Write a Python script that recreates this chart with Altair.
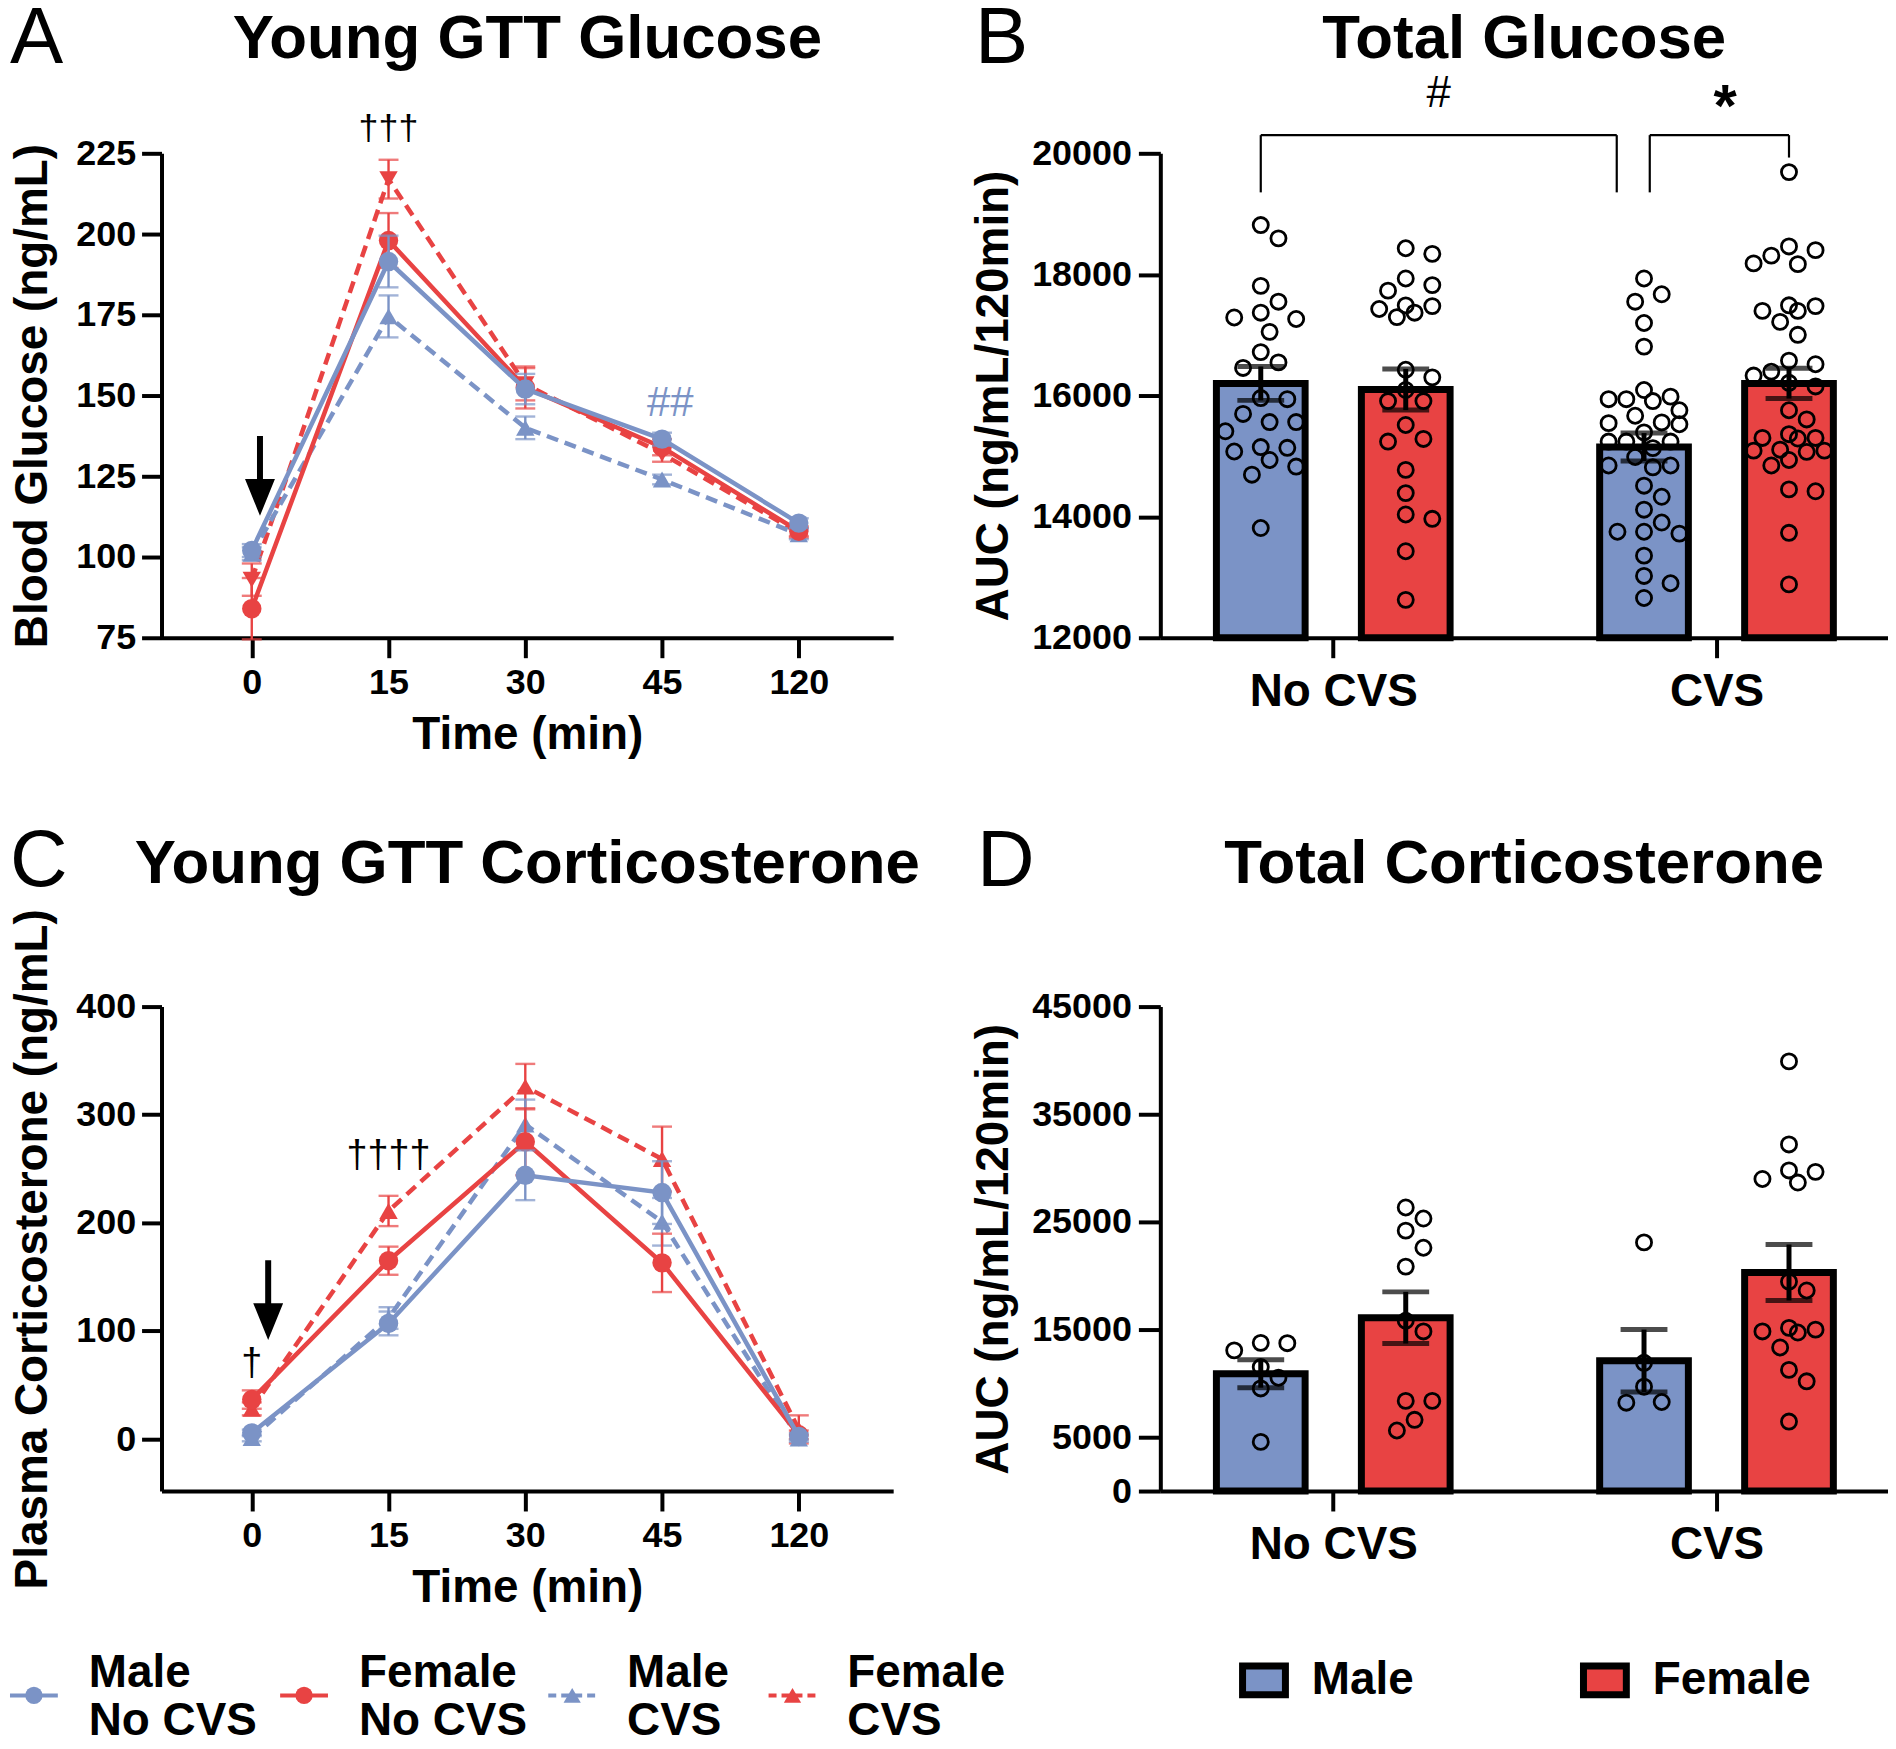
import json
import altair as alt
import pandas as pd

FONT = "Liberation Sans"
BLUE = "#7B93C6"
RED = "#E84343"

# ---------------- data ----------------
time_labels = ["0", "15", "30", "45", "120"]
series_names = ["Male No CVS", "Female No CVS", "Male CVS", "Female CVS"]
legend_labels = ["Male\nNo CVS", "Female\nNo CVS", "Male\nCVS", "Female\nCVS"]
group_labels = ["No CVS", "CVS"]
sex_labels = ["Male", "Female"]

# Panel A: blood glucose (mean, SEM) at each time point
glu_male_nocvs = [102, 191.5, 152, 136.5, 110.5]
glu_male_nocvs_sem = [2, 8, 4.7, 2, 1.5]
glu_female_nocvs = [84, 198, 152.5, 134, 108]
glu_female_nocvs_sem = [9.5, 8.5, 6.5, 2.5, 1.5]
glu_male_cvs = [101, 174.5, 140, 124, 107]
glu_male_cvs_sem = [2, 6.5, 3.5, 1.5, 1.5]
glu_female_cvs = [93, 217, 153.5, 132, 107.5]
glu_female_cvs_sem = [5, 6, 5, 2.5, 1.5]

# Panel C: plasma corticosterone (mean, SEM)
cort_male_nocvs = [5.8, 107, 244, 228, 2.5]
cort_male_nocvs_sem = [3, 11, 23, 29, 3]
cort_female_nocvs = [36.6, 165, 275, 163, 4]
cort_female_nocvs_sem = [8.5, 13, 31, 27, 4]
cort_male_cvs = [1, 112, 291, 201, 0.5]
cort_male_cvs_sem = [3, 10, 23, 22, 3]
cort_female_cvs = [28, 211, 326, 259, 9]
cort_female_cvs_sem = [6, 14, 21, 30, 13]

# Panel B: glucose AUC
auc_glu_means = [16200, 16100, 15150, 16200]
auc_glu_sems = [280, 340, 230, 250]
auc_glu_male_nocvs = [18815, 18596, 17811, 17550, 17368, 17289, 17264, 17052, 16717, 16547,
                      16456, 15958, 15940, 15696, 15562, 15562, 15410, 15137, 15149, 15076,
                      14936, 14827, 14693, 13812]
auc_glu_female_nocvs = [18432, 18340, 17933, 17824, 17732, 17489, 17477, 17429, 17368, 17295,
                        16426, 16300, 16091, 15909, 15909, 15514, 15283, 15240, 14772, 14389,
                        14036, 13964, 13429, 12626]
auc_glu_male_cvs = [17933, 17672, 17550, 17198, 16808, 16091, 15982, 15940, 15940, 15909,
                    15757, 15666, 15556, 15544, 15526, 15392, 15240, 15240, 15240, 15131,
                    14985, 14845, 14845, 14815, 14511, 14328, 14115, 13903, 13751, 13751,
                    13720, 13356, 13021, 12900, 12657]
auc_glu_female_cvs = [19690, 18462, 18401, 18310, 18182, 18170, 17490, 17477, 17398, 17398,
                      17216, 17003, 16577, 16517, 16395, 16330, 16210, 16150, 15757, 15605,
                      15362, 15300, 15300, 15290, 15106, 15090, 15090, 15070, 14936, 14845,
                      14450, 14419, 13733, 12881]

# Panel D: corticosterone AUC
auc_cort_means = [10900, 16100, 12100, 20300]
auc_cort_sems = [1300, 2400, 2900, 2600]
auc_cort_male_nocvs = [13766, 13733, 13070, 11515, 10523, 9530, 4566]
auc_cort_female_nocvs = [26340, 25314, 24189, 22600, 20847, 15817, 14824, 8372, 8372, 6618, 5625]
auc_cort_male_cvs = [23097, 11912, 9695, 8272, 8206]
auc_cort_female_cvs = [39907, 32197, 29781, 29649, 28987, 28656, 19457, 18630, 15155, 14990,
                       14824, 14725, 13335, 11251, 10192, 6453]

# annotations (text, time index, value)
glu_annot_text = ["\u2020\u2020\u2020", "##"]
glu_annot_idx = [1, 3.06]
glu_annot_val = [232.5, 147.8]
cort_annot_text = ["\u2020\u2020\u2020\u2020", "\u2020"]
cort_annot_idx = [1, 0]
cort_annot_val = [262, 69]
glu_arrow = (0.06, 125.1)
cort_arrow = (0.12, 128.5)

# ---------------- style ----------------
COLORS = {n: (BLUE if n.startswith("Male") else RED) for n in series_names}
DASHED = {n: ("No CVS" not in n) for n in series_names}
DRAW_ORDER = ["Female CVS", "Male CVS", "Female No CVS", "Male No CVS"]
ARROW = "M-0.075,-1L0.075,-1L0.075,0.075L0.375,0.075L0,1L-0.375,0.075L-0.075,0.075Z"
LINE_W, LINE_H = 734, 486
BAR_W, BAR_H = 730, 486
group_centers = [2.34, 7.68]
sex_offsets = [-1.01, 1.01]
LETTER_SIZE = 80
TITLE_SIZE = 62


def text_layer(txt, x, y, size, weight="normal", align="left", baseline="alphabetic", color="black"):
    return alt.Chart(pd.DataFrame({"t": [txt]})).mark_text(
        font=FONT, fontSize=size, fontWeight=weight, align=align, baseline=baseline,
        color=color, lineBreak="\n", lineHeight=48
    ).encode(x=alt.value(x), y=alt.value(y), text="t:N")


def line_panel(series, ydom, yticks, ytitle, title, title_y, letter, letter_xy,
               shapes, annots, arrow, legend=False):
    xs = alt.Scale(domain=[-0.66, 4.69], nice=False, zero=False)
    ys = alt.Scale(domain=ydom, nice=False, zero=False)
    xax = alt.Axis(values=[0, 1, 2, 3, 4], labelExpr=json.dumps(time_labels) + "[datum.value]",
                   title="Time (min)", tickSize=20, labelPadding=8, titlePadding=12)
    yax = alt.Axis(values=yticks, title=ytitle, tickSize=20, labelPadding=6, titlePadding=19, format="d")

    def X(f):
        return alt.X(f"{f}:Q", scale=xs, axis=xax)

    def Y(f):
        return alt.Y(f"{f}:Q", scale=ys, axis=yax)

    layers = []
    for name in DRAW_ORDER:
        means, sems = series[name]
        df = pd.DataFrame({
            "idx": list(range(len(means))),
            "mean": means,
            "lo": [m - s for m, s in zip(means, sems)],
            "hi": [m + s for m, s in zip(means, sems)],
        })
        c = COLORS[name]
        base = alt.Chart(df)
        lkw = dict(color=c, strokeWidth=4.5)
        if DASHED[name]:
            lkw["strokeDash"] = [12, 7]
        layers.append(base.mark_line(**lkw).encode(x=X("idx"), y=Y("mean")))
        layers.append(base.mark_rule(color=c, strokeWidth=2.4).encode(x=X("idx"), y=Y("lo"), y2="hi"))
        layers.append(base.mark_tick(color=c, orient="horizontal", size=20, thickness=2.4)
                      .encode(x=X("idx"), y=Y("lo")))
        layers.append(base.mark_tick(color=c, orient="horizontal", size=20, thickness=2.4)
                      .encode(x=X("idx"), y=Y("hi")))
        shp = shapes[name]
        sz = 380 if shp == "circle" else 340
        layers.append(base.mark_point(filled=True, color=c, shape=shp, size=sz, opacity=1)
                      .encode(x=X("idx"), y=Y("mean")))

    # annotations
    texts, idxs, vals, cols, sizes = annots
    adf = pd.DataFrame({"t": texts, "idx": idxs, "v": vals, "c": cols, "fs": sizes})
    layers.append(alt.Chart(adf).mark_text(font=FONT, align="center", baseline="middle").encode(
        x=X("idx"), y=Y("v"), text="t:N",
        color=alt.Color("c:N", scale=None), size=alt.Size("fs:Q", scale=None)))
    # arrow
    ardf = pd.DataFrame({"idx": [arrow[0]], "v": [arrow[1]]})
    layers.append(alt.Chart(ardf).mark_point(shape=ARROW, size=6400, filled=True, color="black",
                                             opacity=1, strokeWidth=0)
                  .encode(x=X("idx"), y=Y("v")))
    # panel title and letter
    layers.append(text_layer(title, LINE_W / 2, title_y, TITLE_SIZE, weight="bold", align="center"))
    layers.append(text_layer(letter, letter_xy[0], letter_xy[1], LETTER_SIZE))

    if legend:
        leg_x = [-128, 143, 412, 633]
        leg_y = 691
        for name, lab, lx in zip(series_names, legend_labels, leg_x):
            c = COLORS[name]
            d1 = pd.DataFrame({"a": [0]})
            rkw = dict(color=c, strokeWidth=4)
            if DASHED[name]:
                rkw["strokeDash"] = [8, 5]
            layers.append(alt.Chart(d1).mark_rule(**rkw).encode(
                x=alt.value(lx - 24), x2=alt.value(lx + 24), y=alt.value(leg_y)))
            shp = "circle" if "No CVS" in name else "triangle-up"
            layers.append(alt.Chart(d1).mark_point(filled=True, color=c, shape=shp,
                                                   size=300, opacity=1)
                          .encode(x=alt.value(lx), y=alt.value(leg_y)))
            layers.append(text_layer(lab, lx + 55, leg_y - 22, 46, weight="bold", baseline="middle"))

    return alt.layer(*layers).properties(width=LINE_W, height=LINE_H)


def swarm(values, ypx, xpx, d=20.0, step=9.0, maxoff=42.0):
    """Deterministic beeswarm: pixel offsets so that dots do not overlap."""
    cands = [0.0]
    k = 1
    while k * step <= maxoff:
        cands += [k * step, -k * step]
        k += 1
    placed = []
    offs = [0.0] * len(values)
    order = sorted(range(len(values)), key=lambda i: -values[i])
    for i in order:
        best, bestc, bestd = None, 0.0, -1.0
        for c in cands:
            dists = [((c - px) ** 2 + ((values[i] - v) * ypx) ** 2) ** 0.5 for px, v in placed]
            m = min(dists) if dists else 1e9
            if m >= d:
                best = c
                break
            if m > bestd:
                bestd, bestc = m, c
        if best is None:
            best = bestc
        placed.append((best, values[i]))
        offs[i] = best / xpx
    return offs


def bar_panel(dots, means, sems, ydom, yticks, ytitle, title, title_y, letter, letter_xy,
              bracket=False, legend=False):
    xs = alt.Scale(domain=[0, 10], nice=False, zero=False)
    ys = alt.Scale(domain=ydom, nice=False, zero=False)
    lab_expr = json.dumps(group_labels) + f"[datum.value < {sum(group_centers) / 2} ? 0 : 1]"
    xax = alt.Axis(values=group_centers, labelExpr=lab_expr, title=None, tickSize=20,
                   labelPadding=12, labelFontSize=46)
    yax = alt.Axis(values=yticks, title=ytitle, tickSize=22, labelPadding=7, titlePadding=14, format="d")

    def X(f):
        return alt.X(f"{f}:Q", scale=xs, axis=xax)

    def Y(f):
        return alt.Y(f"{f}:Q", scale=ys, axis=yax)

    ypx = BAR_H / (ydom[1] - ydom[0])
    xpx = BAR_W / 10.0
    xc = [group_centers[i // 2] + sex_offsets[i % 2] for i in range(4)]
    bdf = pd.DataFrame({
        "xc": xc, "mean": means,
        "lo": [m - s for m, s in zip(means, sems)],
        "hi": [m + s for m, s in zip(means, sems)],
        "sex": [sex_labels[i % 2] for i in range(4)],
    })
    rows = []
    for i, vals in enumerate(dots):
        offs = swarm(vals, ypx, xpx)
        for v, o in zip(vals, offs):
            rows.append({"xp": xc[i] + o, "v": v})
    pdf = pd.DataFrame(rows)

    layers = [
        alt.Chart(bdf).mark_bar(size=89, stroke="black", strokeWidth=7).encode(
            x=X("xc"), y=Y("mean"), y2=alt.datum(ydom[0]),
            color=alt.Color("sex:N", scale=alt.Scale(domain=sex_labels, range=[BLUE, RED]), legend=None)),
        alt.Chart(pdf).mark_point(shape="circle", filled=False, color="black", strokeWidth=2.8,
                                  size=230, opacity=1).encode(x=X("xp"), y=Y("v")),
        alt.Chart(bdf).mark_rule(color="black", strokeWidth=5).encode(x=X("xc"), y=Y("lo"), y2="hi"),
        alt.Chart(bdf).mark_tick(color="black", orient="horizontal", size=47, thickness=5)
        .encode(x=X("xc"), y=Y("lo")),
        alt.Chart(bdf).mark_tick(color="black", orient="horizontal", size=47, thickness=5)
        .encode(x=X("xc"), y=Y("hi")),
    ]

    if bracket:
        top, low, short = 20300, 19355, 19930
        b1 = (xc[0], xc[2] - 0.38)
        b2 = (xc[2] + 0.08, xc[3])
        seg = pd.DataFrame({
            "x": [b1[0], b1[0], b1[1], b2[0], b2[0], b2[1]],
            "x2": [b1[0], b1[1], b1[1], b2[0], b2[1], b2[1]],
            "y": [low, top, top, low, top, top],
            "y2": [top, top, low, top, top, short],
        })
        layers.append(alt.Chart(seg).mark_rule(color="black", strokeWidth=2.2).encode(
            x=X("x"), x2="x2", y=Y("y"), y2="y2"))
        sdf = pd.DataFrame({"t": ["#", "*"], "x": [sum(b1) / 2, sum(b2) / 2 + 0.08], "v": [20975, 20750],
                            "w": ["normal", "bold"]})
        layers.append(alt.Chart(sdf[sdf.w == "normal"]).mark_text(
            font=FONT, fontSize=44, align="center", baseline="middle", color="black")
            .encode(x=X("x"), y=Y("v"), text="t:N"))
        layers.append(alt.Chart(sdf[sdf.w == "bold"]).mark_text(
            font=FONT, fontSize=60, fontWeight="bold", align="center", baseline="middle", color="black")
            .encode(x=X("x"), y=Y("v"), text="t:N"))

    layers.append(text_layer(title, BAR_W / 2, title_y, TITLE_SIZE, weight="bold", align="center"))
    layers.append(text_layer(letter, letter_xy[0], letter_xy[1], LETTER_SIZE))

    if legend:
        leg_x = [104, 446]
        leg_y = 676
        for lab, col, lx in zip(sex_labels, [BLUE, RED], leg_x):
            d1 = pd.DataFrame({"a": [0]})
            layers.append(alt.Chart(d1).mark_point(shape="M-1,-0.67H1V0.67H-1Z", size=1849, filled=True,
                                                   fill=col, stroke="black", strokeWidth=7, opacity=1)
                          .encode(x=alt.value(lx), y=alt.value(leg_y)))
            layers.append(text_layer(lab, lx + 48, leg_y, 46, weight="bold", baseline="middle"))

    return alt.layer(*layers).properties(width=BAR_W, height=BAR_H)


glu_series = {
    "Male No CVS": (glu_male_nocvs, glu_male_nocvs_sem),
    "Female No CVS": (glu_female_nocvs, glu_female_nocvs_sem),
    "Male CVS": (glu_male_cvs, glu_male_cvs_sem),
    "Female CVS": (glu_female_cvs, glu_female_cvs_sem),
}
cort_series = {
    "Male No CVS": (cort_male_nocvs, cort_male_nocvs_sem),
    "Female No CVS": (cort_female_nocvs, cort_female_nocvs_sem),
    "Male CVS": (cort_male_cvs, cort_male_cvs_sem),
    "Female CVS": (cort_female_cvs, cort_female_cvs_sem),
}

panel_a = line_panel(
    glu_series, [75, 225], [75, 100, 125, 150, 175, 200, 225], "Blood Glucose (ng/mL)",
    "Young GTT Glucose", -96, "A", (-152, -91),
    {"Male No CVS": "circle", "Female No CVS": "circle", "Male CVS": "triangle-up",
     "Female CVS": "triangle-down"},
    (glu_annot_text, glu_annot_idx, glu_annot_val, ["black", BLUE], [36, 42]),
    glu_arrow)

panel_c = line_panel(
    cort_series, [-48, 400], [0, 100, 200, 300, 400], "Plasma Corticosterone (ng/mL)",
    "Young GTT Corticosterone", -124, "C", (-152, -121),
    {"Male No CVS": "circle", "Female No CVS": "circle", "Male CVS": "triangle-up",
     "Female CVS": "triangle-up"},
    (cort_annot_text, cort_annot_idx, cort_annot_val, ["black", "black"], [38, 38]),
    cort_arrow, legend=True)

panel_b = bar_panel(
    [auc_glu_male_nocvs, auc_glu_female_nocvs, auc_glu_male_cvs, auc_glu_female_cvs],
    auc_glu_means, auc_glu_sems, [12000, 20000], [12000, 14000, 16000, 18000, 20000],
    "AUC (ng/mL/120min)", "Total Glucose", -96, "B", (-186, -91), bracket=True)

panel_d = bar_panel(
    [auc_cort_male_nocvs, auc_cort_female_nocvs, auc_cort_male_cvs, auc_cort_female_cvs],
    auc_cort_means, auc_cort_sems, [0, 45000], [0, 5000, 15000, 25000, 35000, 45000],
    "AUC (ng/mL/120min)", "Total Corticosterone", -124, "D", (-184, -121), legend=True)

chart = alt.concat(
    panel_a, panel_b, panel_c, panel_d, columns=2,
    spacing={"row": 370, "column": 268}, bounds="flush",
).configure(
    font=FONT, padding={"left": 0, "top": -12, "right": 0, "bottom": 0}
).configure_view(
    stroke=None
).configure_axis(
    domainColor="black", domainWidth=4, tickColor="black", tickWidth=4,
    labelFont=FONT, labelFontSize=36, labelFontWeight="bold", labelColor="black",
    titleFont=FONT, titleFontSize=46, titleFontWeight="bold", titleColor="black",
    grid=False, labelFlush=False, labelOverlap=False, labelBound=False,
)

chart.save("out.html", embed_options={"renderer": "svg", "actions": False})
